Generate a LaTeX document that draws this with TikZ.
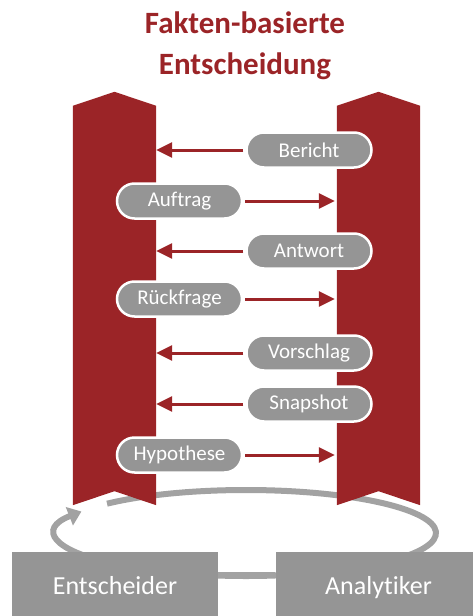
\documentclass[tikz,border=0pt]{standalone}
\usepackage{fontspec}
\setmainfont{Carlito}[RawFeature={-liga;-clig;-dlig;-calt}]
\usetikzlibrary{arrows.meta}
\definecolor{pillarred}{HTML}{9B2427}
\definecolor{boxgray}{HTML}{959595}
\definecolor{loopgray}{HTML}{A2A2A2}
\tikzset{
  pill/.style={draw=white, line width=2.5pt, fill=boxgray, text=white, inner sep=0pt,
    minimum width=125pt, minimum height=35pt, rounded corners=17.5pt,
    font=\fontsize{21}{24}\selectfont},
  msg/.style={draw=pillarred, line width=3pt, -{Triangle[length=16pt,width=15pt]}},
  actor/.style={fill=boxgray, text=white, inner sep=0pt, minimum width=206pt,
    minimum height=66pt, text height=18pt, text depth=0pt,
    font=\fontsize{26}{30}\selectfont},
  pillar/.style={inner sep=0pt, minimum width=83pt, minimum height=399pt}
}

\begin{document}
\begin{tikzpicture}[x=1pt, y=-1pt]
	%%%%% START %%%%%
	\useasboundingbox (0,0) rectangle (473,616);
	
	% title
	\node[anchor=base, text=pillarred, font=\fontsize{31}{36}\selectfont\bfseries] (title1) at (245,33) {Fakten-basierte};
	\node[anchor=base, text=pillarred, font=\fontsize{31}{36}\selectfont\bfseries] (title2) at (245,74) {Entscheidung};
	
	% loop behind everything
	\draw[loopgray, line width=6pt, -{Triangle[length=13pt,width=19pt]}] (246,533) ++(223:190 and 43) arc (223:570:190 and 43);
	
	% pillars
	\node[pillar] (entpillar) at (114.5,305.5) {};
	\node[pillar] (anapillar) at (378.5,305.5) {};
	\fill[pillarred] (entpillar.north west) -- ([yshift=14pt]entpillar.north) -- (entpillar.north east)
		-- (entpillar.south east) -- ([yshift=14pt]entpillar.south) -- (entpillar.south west) -- cycle;
	\fill[pillarred] (anapillar.north west) -- ([yshift=14pt]anapillar.north) -- (anapillar.north east)
		-- (anapillar.south east) -- ([yshift=14pt]anapillar.south) -- (anapillar.south west) -- cycle;
	
	% messages
	\node[pill] (bericht) at (309,150) {Bericht};
	\node[pill] (auftrag) at (179.5,201) {Auftrag};
	\node[pill] (antwort) at (309,251) {Antwort};
	\node[pill] (rueckfrage) at (179.5,299) {Rückfrage};
	\node[pill] (vorschlag) at (309,353) {Vorschlag};
	\node[pill] (snapshot) at (309,404) {Snapshot};
	\node[pill] (hypothese) at (179.5,455) {Hypothese};
	
	\foreach \m in {bericht,antwort,vorschlag,snapshot}
		\draw[msg] ([xshift=-2pt]\m.west) -- (\m.west -| entpillar.east);
	\foreach \m in {auftrag,rueckfrage,hypothese}
		\draw[msg] ([xshift=2pt]\m.east) -- ([xshift=-2pt]\m.east -| anapillar.west);
	
	% roles
	\node[actor] (entscheider) at (115,585) {Entscheider};
	\node[actor] (analytiker) at (378.5,585) {Analytiker};
	\draw[loopgray, line width=5pt] ([yshift=11pt]entscheider.east) -- ([yshift=11pt]analytiker.west);
	%%%%% END %%%%%
\end{tikzpicture}
\end{document}
